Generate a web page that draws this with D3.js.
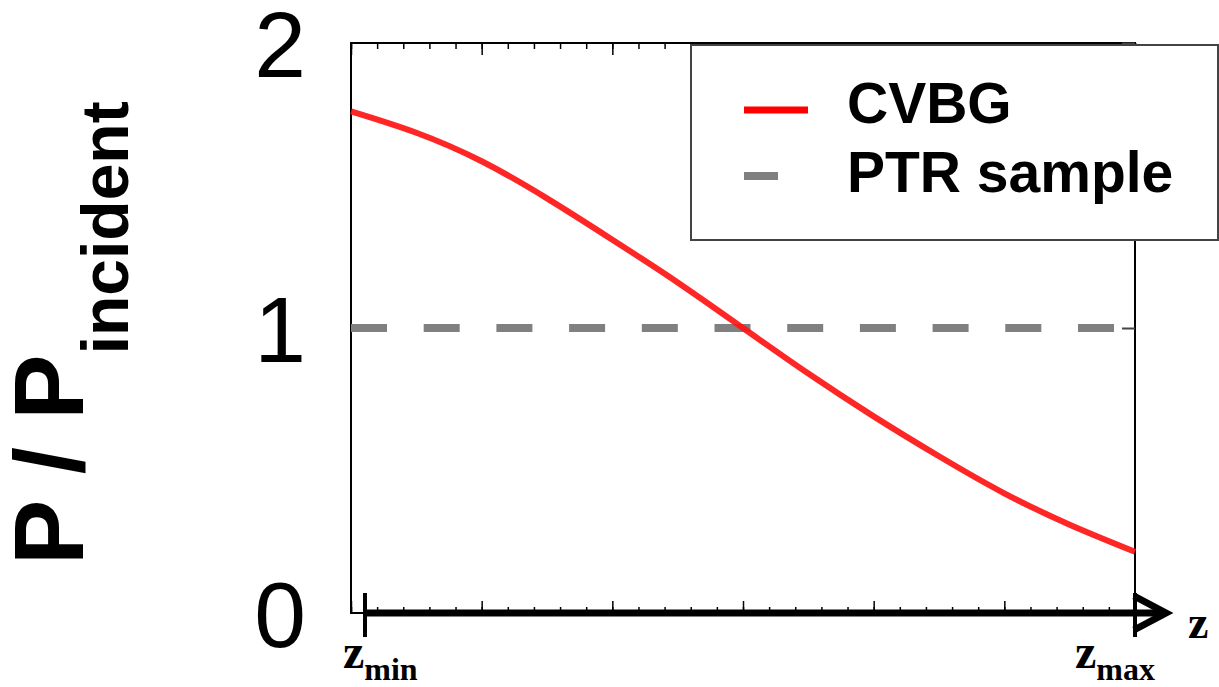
<!DOCTYPE html>
<html>
<head>
<meta charset="utf-8">
<script src="https://cdn.jsdelivr.net/npm/d3@7"></script>
<style>
  body { margin: 0; background: #fff; }
  svg { display: block; }
</style>
</head>
<body>
<div id="chart"></div>
<script>
// CVBG power profile along z, vs flat PTR sample
const zPos = [0, 0.5, 1, 1.5, 2, 2.5, 3, 3.5, 4, 4.5, 5, 5.5, 6];
const cvbg = [1.76, 1.685, 1.585, 1.455, 1.31, 1.16, 1.0, 0.84, 0.69, 0.55, 0.42, 0.31, 0.215];
const ptrZ = [0, 6];
const ptr = [1, 1];
const yTicks = [0, 1, 2];
const zMarks = [{v: 0.107, name: 'min'}, {v: 6, name: 'max'}];
const legendItems = ['CVBG', 'PTR sample'];

const width = 1219, height = 687;
const x = d3.scaleLinear().domain([0, 6]).range([351, 1135]);
const y = d3.scaleLinear().domain([0, 2]).range([613, 43]);

const svg = d3.select('#chart').append('svg')
    .attr('width', width)
    .attr('height', height);

// frame
svg.append('rect')
    .attr('x', x(0)).attr('y', y(2))
    .attr('width', x(6) - x(0)).attr('height', y(0) - y(2))
    .attr('fill', 'none').attr('stroke', '#000').attr('stroke-width', 2);

const minorTicks = d3.range(0, 30.5).map(d => d / 5);

// bottom ticks point up, top ticks point down
[[d3.axisBottom, y(0)], [d3.axisTop, y(2)]].forEach(([ax, ty]) => {
    svg.append('g').attr('transform', `translate(0,${ty})`)
        .call(ax(x).tickValues(minorTicks).tickSize(-6).tickFormat(''))
        .call(g => g.select('.domain').remove())
        .call(g => g.selectAll('line').attr('stroke-width', 1.5));
    svg.append('g').attr('transform', `translate(0,${ty})`)
        .call(ax(x).tickValues(d3.range(0, 7)).tickSize(-12).tickFormat(''))
        .call(g => g.select('.domain').remove())
        .call(g => g.selectAll('line').attr('stroke-width', 1.5));
});

// right axis tick
svg.append('g').attr('transform', `translate(${x(6)},0)`)
    .call(d3.axisRight(y).tickValues(yTicks).tickSize(-13).tickFormat(''))
    .call(g => g.select('.domain').remove())
    .call(g => g.selectAll('line').attr('stroke', '#444').attr('stroke-width', 2));

// left tick labels
svg.append('g').attr('transform', `translate(${x(0)},0)`)
    .call(d3.axisLeft(y).tickValues(yTicks).tickSize(0).tickPadding(45).tickFormat(d3.format('d')))
    .call(g => g.select('.domain').remove())
    .call(g => g.selectAll('text')
        .attr('font-family', 'Liberation Sans, Arial, sans-serif')
        .attr('font-size', 93)
        .attr('fill', '#000')
        .attr('dy', '0.36em'));

// PTR sample (dashed)
const line = d3.line().x(d => x(d[0])).y(d => y(d[1]));
svg.append('path')
    .datum(d3.zip(ptrZ, ptr))
    .attr('d', line)
    .attr('fill', 'none')
    .attr('stroke', '#808080')
    .attr('stroke-width', 8)
    .attr('stroke-dasharray', '36,36.7');

// CVBG curve
svg.append('path')
    .datum(d3.zip(zPos, cvbg))
    .attr('d', line.curve(d3.curveNatural))
    .attr('fill', 'none')
    .attr('stroke', '#ff1414')
    .attr('stroke-opacity', 0.92)
    .attr('stroke-width', 6);

// legend
const lg = svg.append('g');
lg.append('rect')
    .attr('x', 691).attr('y', 45).attr('width', 527).attr('height', 195)
    .attr('fill', '#fff').attr('stroke', '#444').attr('stroke-width', 2);
const legStyles = [{c: '#ff0000', x2: 808, w: 7, cy: 110}, {c: '#808080', x2: 778, w: 8, cy: 176}];
legendItems.forEach((name, i) => {
    lg.append('line')
        .attr('x1', 744).attr('x2', legStyles[i].x2)
        .attr('y1', legStyles[i].cy).attr('y2', legStyles[i].cy)
        .attr('stroke', legStyles[i].c).attr('stroke-width', legStyles[i].w);
    lg.append('text')
        .attr('x', 847).attr('y', i == 0 ? 123 : 192)
        .attr('font-family', 'Liberation Sans, Arial, sans-serif')
        .attr('font-weight', 'bold')
        .attr('font-size', 57)
        .text(name);
});

// z arrow axis
const zy = y(0);
svg.append('line')
    .attr('x1', x(zMarks[0].v)).attr('x2', 1160)
    .attr('y1', zy).attr('y2', zy)
    .attr('stroke', '#000').attr('stroke-width', 7);
svg.append('polyline')
    .attr('points', `1134,596 1166,${zy} 1134,630`)
    .attr('fill', 'none').attr('stroke', '#000').attr('stroke-width', 7)
    .attr('stroke-linejoin', 'miter');
zMarks.forEach(m => {
    svg.append('line')
        .attr('x1', x(m.v)).attr('x2', x(m.v))
        .attr('y1', zy - 20).attr('y2', zy + 24)
        .attr('stroke', '#000').attr('stroke-width', 4);
    const t = svg.append('text')
        .attr('x', x(m.v) - (m.name == 'min' ? 22 : 60)).attr('y', 668)
        .attr('font-family', 'Liberation Serif, Times New Roman, serif')
        .attr('font-weight', 'bold')
        .attr('font-size', 48);
    t.append('tspan').text('z');
    t.append('tspan').attr('dy', 12).attr('font-size', 32).text(m.name);
});
svg.append('text')
    .attr('x', 1188).attr('y', 638)
    .attr('font-family', 'Liberation Serif, Times New Roman, serif')
    .attr('font-weight', 'bold')
    .attr('font-size', 46)
    .text('z');

// y title
const yt = svg.append('text')
    .attr('transform', 'translate(83,565) rotate(-90)')
    .attr('font-family', 'Liberation Sans, Arial, sans-serif')
    .attr('font-weight', 'bold')
    .attr('font-size', 98);
yt.append('tspan').text('P / P');
yt.append('tspan').attr('dy', 45).attr('font-size', 66).text('incident');
</script>
</body>
</html>
